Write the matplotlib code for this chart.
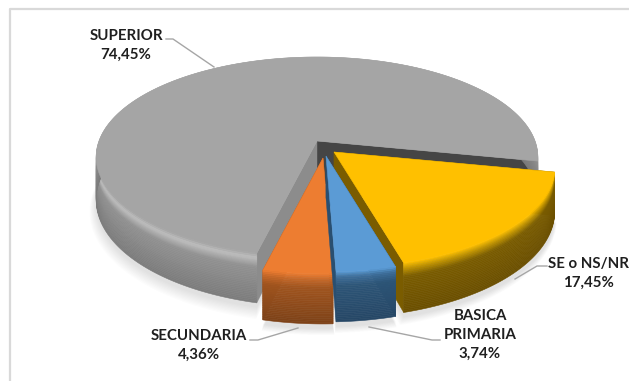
import numpy as np
import matplotlib
matplotlib.use('Agg')
import matplotlib.pyplot as plt
from matplotlib.colors import LinearSegmentedColormap
from matplotlib.patches import Polygon

plt.rcParams['font.family'] = ['Lato', 'DejaVu Sans']

# clockwise from the right hand cut of the gray slice
categories = ['SE o NS/NR', 'BASICA\nPRIMARIA', 'SECUNDARIA', 'SUPERIOR']
values = [17.45, 3.74, 4.36, 74.45]

colors = ['#ffc000', '#5b9bd5', '#ed7d31', '#a5a5a5']
ramps = [
    ['#ffc000', '#c99a00', '#7a5c00', '#6b4f00'],
    ['#5b9bd5', '#3e6f9b', '#2d5577', '#264766'],
    ['#ed7d31', '#c96a2a', '#a0541e', '#7d4218'],
    ['#a5a5a5', '#bdbdbd', '#929292', '#7c7c7c'],
]
walls = ['#7a5c00', '#2a4f70', '#8f4c1b', '#8c8c8c']
offsets = [(17, 11), (9, 15), (6, 17), (0, 0)]
label_pos = [(588, 273), (480, 335), (199, 345), (126, 45)]
leaders = [
    [(547, 266), (537, 266), (515, 279)],
    [(440, 340), (432, 340), (369, 327)],
    [(250, 340), (258, 340), (298, 328)],
    [(166, 39), (173, 39), (214, 67)],
]

# pie geometry in pixels, simple perspective of a flat disc
cx, cy = 317, 141
R, K, D = 218, 97.4, 6.25
depth = 42
start = -11.5


def project(t, drop=0.0, off=(0, 0)):
    X, Y = np.cos(t), np.sin(t)
    s = D / (D + Y)
    return np.column_stack([cx + off[0] + R * X * s, cy + off[1] - K * Y * s + drop * s])


def apex(drop=0.0, off=(0, 0)):
    return np.array([[cx + off[0], cy + off[1] + drop]])


def shadow(ax, t, off):
    pts = np.vstack([apex(depth + 4, off), project(t, depth + 4, off)])
    mid = pts.mean(axis=0)
    for k in range(10):
        ax.add_patch(Polygon(mid + (pts - mid) * (1 + 0.004 * k) + [0, k * 0.7], fc='#808080',
                             ec='none', alpha=0.025, zorder=1))


def draw_slice(ax, t, off, color, ramp, wall, z):
    cmap = LinearSegmentedColormap.from_list('rim', list(zip([0, 0.1, 0.28, 1], ramp)))
    for end in (t[:1], t[-1:]):
        q = np.vstack([apex(0, off), project(end, 0, off), project(end, depth, off), apex(depth, off)])
        fc = '#454545' if color == '#a5a5a5' and end[0] == t[0] else wall
        ax.add_patch(Polygon(q, fc=fc, ec=fc, lw=0.3, zorder=z))
    n = 28
    for i in range(n):
        a = project(t, depth * i / n, off)
        b = project(t, depth * (i + 1) / n, off)
        c = cmap((i + 0.5) / n)
        ax.add_patch(Polygon(np.vstack([a, b[::-1]]), fc=c, ec=c, lw=0.4, zorder=z + 0.1))
    top = np.vstack([apex(0, off), project(t, 0, off)])
    ax.add_patch(Polygon(top, fc=color, ec=color, lw=0.4, zorder=z + 0.2))


fig = plt.figure(figsize=(6.29, 3.81), dpi=100)
ax = fig.add_axes([0, 0, 1, 1])
ax.set_xlim(0, 629)
ax.set_ylim(381, 0)
ax.axis('off')

# chart frame
ax.plot([10, 10, 629], [381, 9, 9], color='#d9d9d9', lw=1.6, zorder=0)

sweeps = np.array(values) / sum(values) * 2 * np.pi
stops = np.radians(start) - np.concatenate([[0], np.cumsum(sweeps)])
arcs = [np.linspace(stops[i + 1], stops[i], 300) for i in range(len(values))]

for i in range(len(values)):
    shadow(ax, arcs[i], offsets[i])

# gray at the back, blue last so it sits over the yellow wall
for z, i in zip([2, 3, 4, 5], [3, 0, 2, 1]):
    draw_slice(ax, arcs[i], offsets[i], colors[i], ramps[i], walls[i], z)

for name, val, pos, line in zip(categories, values, label_pos, leaders):
    xs, ys = zip(*line)
    ax.plot(xs, ys, color='#a6a6a6', lw=1.0, zorder=6)
    txt = name + '\n' + f'{val:.2f}'.replace('.', ',') + '%'
    ax.text(pos[0], pos[1], txt, ha='center', va='center', fontsize=10.8, fontweight='bold',
            color='#1f1f1f', linespacing=1.42, zorder=7)

fig.savefig('out.png', dpi=100)
